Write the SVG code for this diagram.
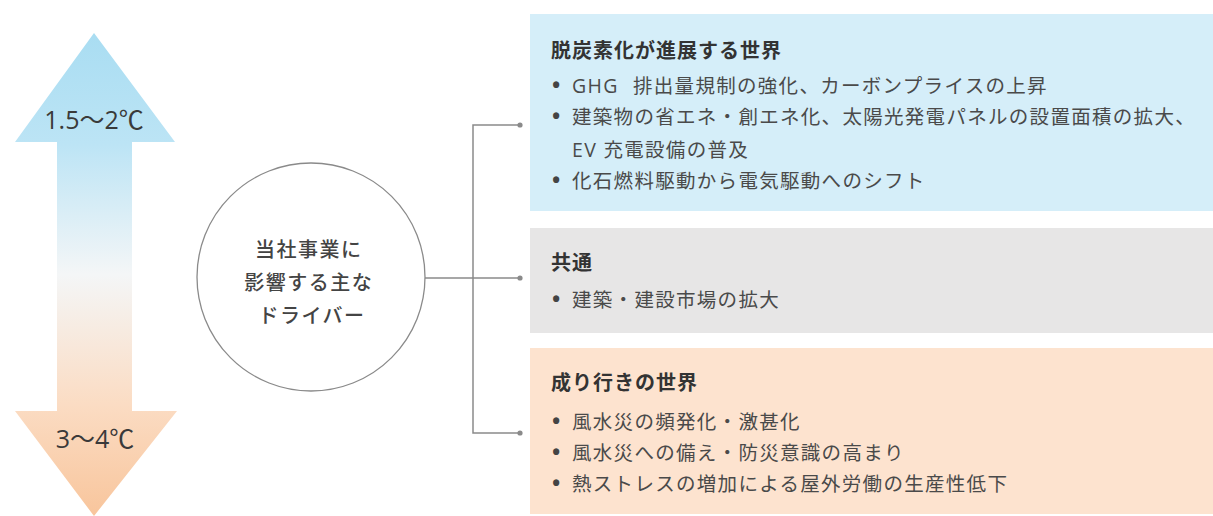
<svg xmlns="http://www.w3.org/2000/svg" width="1213" height="516" viewBox="0 0 1213 516">
  <defs>
    <linearGradient id="tempGrad" x1="0" y1="33" x2="0" y2="516" gradientUnits="userSpaceOnUse">
      <stop offset="0" stop-color="#a9ddf2"/>
      <stop offset="0.23" stop-color="#bce4f5"/>
      <stop offset="0.5" stop-color="#f4f6f7"/>
      <stop offset="0.77" stop-color="#fbdcc3"/>
      <stop offset="1" stop-color="#f8c59c"/>
    </linearGradient>
  </defs>
  <style>
    .jp { font-family: "Open Sans", "Noto Sans CJK JP", sans-serif; }
    .title { font-size: 20px; font-weight: bold; fill: #333333; letter-spacing: 1px; }
    .item { font-size: 19.5px; fill: #4a4a4a; letter-spacing: 1.3px; }
    .bul { font-size: 22px; font-weight: bold; fill: #444444; }
    .temp { font-size: 25px; fill: #3a3a3a; }
    .hub { font-size: 20px; font-weight: 500; fill: #444444; letter-spacing: 1.5px; }
    .conn { stroke: #8a8a8a; stroke-width: 1.5; fill: none; }
    .dot { fill: #8a8a8a; }
  </style>
  <rect width="1213" height="516" fill="#ffffff"/>

  <g id="temperature-arrow">
    <polygon points="94,33 175,142 132,142 132,411 177,411 94,516 15,411 57,411 57,142 15,142" fill="url(#tempGrad)"/>
    <text class="jp temp" x="94" y="129" text-anchor="middle">1.5～2℃</text>
    <text class="jp temp" x="95" y="448" text-anchor="middle">3～4℃</text>
  </g>

  <g id="hub">
    <circle cx="311" cy="277" r="114" fill="#ffffff" stroke="#8a8a8a" stroke-width="1.3"/>
    <text class="jp hub" text-anchor="middle">
      <tspan x="312" y="257">当社事業に</tspan>
      <tspan x="312" y="290">影響する主な</tspan>
      <tspan x="312" y="323">ドライバー</tspan>
    </text>
  </g>

  <g id="connectors">
    <path class="conn" d="M425,278 H520 M520,125 H473 V433 H520"/>
    <circle class="dot" cx="520" cy="125" r="2.6"/>
    <circle class="dot" cx="520" cy="278" r="2.6"/>
    <circle class="dot" cx="520" cy="433" r="2.6"/>
  </g>

  <g id="box-decarbonized">
    <rect x="530" y="14" width="683" height="197" fill="#d5eef9"/>
    <text class="jp title" x="551" y="58">脱炭素化が進展する世界</text>
    <text class="jp item" y="93"><tspan class="bul" x="552">•</tspan><tspan x="572">GHG<tspan dx="8"> 排出量規制の強化、カーボンプライスの上昇</tspan></tspan></text>
    <text class="jp item" y="124"><tspan class="bul" x="552">•</tspan><tspan x="572">建築物の省エネ・創エネ化、太陽光発電パネルの設置面積の拡大、</tspan></text>
    <text class="jp item" x="572" y="157">EV 充電設備の普及</text>
    <text class="jp item" y="188"><tspan class="bul" x="552">•</tspan><tspan x="572">化石燃料駆動から電気駆動へのシフト</tspan></text>
  </g>

  <g id="box-common">
    <rect x="530" y="228" width="683" height="105" fill="#e7e6e6"/>
    <text class="jp title" x="551" y="270">共通</text>
    <text class="jp item" y="307"><tspan class="bul" x="552">•</tspan><tspan x="572">建築・建設市場の拡大</tspan></text>
  </g>

  <g id="box-business-as-usual">
    <rect x="530" y="348" width="683" height="166" fill="#fde3cf"/>
    <text class="jp title" x="551" y="390">成り行きの世界</text>
    <text class="jp item" y="429"><tspan class="bul" x="552">•</tspan><tspan x="572">風水災の頻発化・激甚化</tspan></text>
    <text class="jp item" y="460"><tspan class="bul" x="552">•</tspan><tspan x="572">風水災への備え・防災意識の高まり</tspan></text>
    <text class="jp item" y="491"><tspan class="bul" x="552">•</tspan><tspan x="572">熱ストレスの増加による屋外労働の生産性低下</tspan></text>
  </g>
</svg>
